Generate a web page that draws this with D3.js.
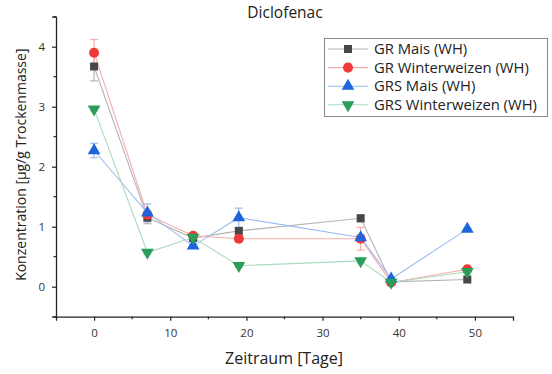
<!DOCTYPE html>
<html>
<head>
<meta charset="utf-8">
<script src="https://cdn.jsdelivr.net/npm/d3@7"></script>
<style>
  html, body { margin: 0; padding: 0; background: #fff; }
  svg { display: block; font-family: "Open Sans", "Noto Sans", sans-serif; }
</style>
</head>
<body>
<svg id="chart" width="552" height="374"></svg>
<script>
// Sampling days
const days = [0, 7, 13, 19, 35, 39, 49];

// Diclofenac concentrations [µg/g dry mass] per series
const grMais = [3.67, 1.15, 0.81, 0.93, 1.14, 0.08, 0.12];
const grWinterweizen = [3.90, 1.20, 0.85, 0.80, 0.80, 0.07, 0.29];
const grsMais = [2.27, 1.23, 0.68, 1.15, 0.82, 0.13, 0.96];
const grsWinterweizen = [2.96, 0.57, 0.82, 0.35, 0.43, 0.07, 0.25];

// Standard deviations
const grMaisErr = [0.24, 0.10, 0.04, 0.04, 0.06, 0.02, 0.02];
const grWinterweizenErr = [0.22, 0.06, 0.04, 0.03, 0.19, 0.02, 0.03];
const grsMaisErr = [0.12, 0.15, 0.03, 0.16, 0.04, 0.03, 0.02];
const grsWinterweizenErr = [0.03, 0.03, 0.03, 0.03, 0.03, 0.02, 0.02];

const seriesNames = ["GR Mais (WH)", "GR Winterweizen (WH)", "GRS Mais (WH)", "GRS Winterweizen (WH)"];
const xTicks = [0, 10, 20, 30, 40, 50];
const yTicks = [0, 1, 2, 3, 4];

const series = [
  { name: seriesNames[0], values: grMais, err: grMaisErr, symbol: d3.symbolSquare, size: 64, rot: 0, fill: "#474747", line: "#b4b4b4" },
  { name: seriesNames[1], values: grWinterweizen, err: grWinterweizenErr, symbol: d3.symbolCircle, size: 80, rot: 0, fill: "#f03a3a", line: "#f8aaaa" },
  { name: seriesNames[2], values: grsMais, err: grsMaisErr, symbol: d3.symbolTriangle, size: 70, rot: 0, fill: "#1e64dc", line: "#9cbcf0" },
  { name: seriesNames[3], values: grsWinterweizen, err: grsWinterweizenErr, symbol: d3.symbolTriangle, size: 70, rot: 180, fill: "#2a9d58", line: "#a8dcbc" }
];

const svg = d3.select("#chart");
const W = 552, H = 374;
const plot = { left: 56, right: 513, top: 16.7, bottom: 316.7 };

const x = d3.scaleLinear().domain([-5, 55]).range([plot.left, plot.right]);
const y = d3.scaleLinear().domain([-0.5, 4.5]).range([plot.bottom, plot.top]);

// Title
svg.append("text")
  .attr("x", 285).attr("y", 18)
  .attr("text-anchor", "middle")
  .attr("font-size", 15.5).attr("fill", "#222")
  .text("Diclofenac");

// Axes
const xAxis = d3.axisBottom(x).tickValues(xTicks).tickSize(4).tickPadding(8).tickFormat(d3.format("d"));
const gx = svg.append("g").attr("transform", `translate(0,${plot.bottom})`).call(xAxis);
gx.selectAll(".domain").attr("stroke", "#222").attr("stroke-width", 1.3);
gx.selectAll(".tick line").attr("stroke", "#222").attr("stroke-width", 1.2);
gx.selectAll("text").attr("font-size", 11.5).attr("fill", "#333").attr("font-family", "Open Sans, sans-serif");
gx.selectAll(".minor").data(d3.range(5, 55, 10)).enter().append("line")
  .attr("x1", d => x(d)).attr("x2", d => x(d)).attr("y1", 0).attr("y2", 2.5)
  .attr("stroke", "#222").attr("stroke-width", 1.2);

const yAxis = d3.axisLeft(y).tickValues(yTicks).tickSize(4).tickPadding(7).tickFormat(d3.format("d"));
const gy = svg.append("g").attr("transform", `translate(${plot.left},0)`).call(yAxis);
gy.selectAll(".domain").attr("stroke", "#222").attr("stroke-width", 1.3);
gy.selectAll(".tick line").attr("stroke", "#222").attr("stroke-width", 1.2);
gy.selectAll("text").attr("font-size", 11.5).attr("fill", "#333").attr("font-family", "Open Sans, sans-serif");
gy.selectAll(".minor").data([-0.5, 0.5, 1.5, 2.5, 3.5, 4.5]).enter().append("line")
  .attr("x1", 0).attr("x2", -2.5).attr("y1", d => y(d)).attr("y2", d => y(d))
  .attr("stroke", "#222").attr("stroke-width", 1.2);

// Axis titles
svg.append("text")
  .attr("x", 284).attr("y", 364)
  .attr("text-anchor", "middle").attr("font-size", 16).attr("fill", "#222")
  .text("Zeitraum [Tage]");
svg.append("text")
  .attr("transform", `translate(26,${(plot.top + plot.bottom) / 2 - 2}) rotate(-90)`)
  .attr("text-anchor", "middle").attr("font-size", 14).attr("fill", "#222")
  .text("Konzentration [µg/g Trockenmasse]");

// Lines, error bars and markers per series
const line = d3.line().x((d, i) => x(days[i])).y(d => y(d));

series.forEach(s => {
  svg.append("path").datum(s.values)
    .attr("d", line).attr("fill", "none")
    .attr("stroke", s.line).attr("stroke-width", 1.1);
});

series.forEach(s => {
  const g = svg.append("g");
  s.values.forEach((v, i) => {
    const e = s.err[i];
    const cx = x(days[i]);
    g.append("line").attr("x1", cx).attr("x2", cx).attr("y1", y(v - e)).attr("y2", y(v + e))
      .attr("stroke", s.line).attr("stroke-width", 1.2);
    [v - e, v + e].forEach(t => {
      g.append("line").attr("x1", cx - 4).attr("x2", cx + 4).attr("y1", y(t)).attr("y2", y(t))
        .attr("stroke", s.line).attr("stroke-width", 1.2);
    });
  });
});

series.forEach(s => {
  svg.append("g").selectAll("path").data(s.values).enter().append("path")
    .attr("d", d3.symbol().type(s.symbol).size(s.size))
    .attr("transform", (d, i) => `translate(${x(days[i])},${y(d)}) rotate(${s.rot})`)
    .attr("fill", s.fill);
});

// Legend
const lg = svg.append("g");
lg.append("rect").attr("x", 324.5).attr("y", 38.5).attr("width", 223).attr("height", 78)
  .attr("fill", "#fff").attr("stroke", "#888").attr("stroke-width", 1);
series.forEach((s, i) => {
  const ly = 49 + i * 18.6;
  lg.append("line").attr("x1", 328).attr("x2", 368).attr("y1", ly).attr("y2", ly)
    .attr("stroke", s.line).attr("stroke-width", 1.1);
  lg.append("path").attr("d", d3.symbol().type(s.symbol).size(s.size))
    .attr("transform", `translate(348,${ly}) rotate(${s.rot})`).attr("fill", s.fill);
  lg.append("text").attr("x", 374).attr("y", ly + 5)
    .attr("font-size", 14.8).attr("fill", "#222").text(s.name);
});
</script>
</body>
</html>
